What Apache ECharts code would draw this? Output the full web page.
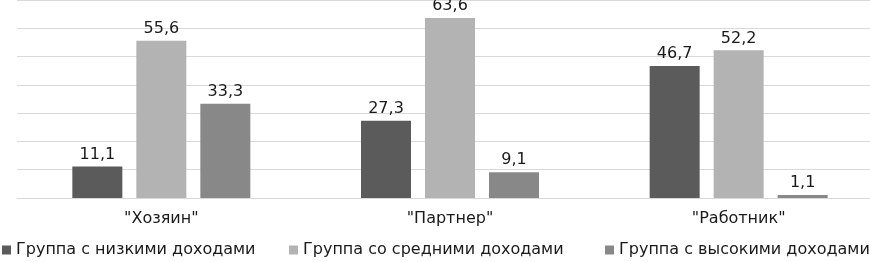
<!DOCTYPE html>
<html>
<head>
<meta charset="utf-8">
<script src="https://cdn.jsdelivr.net/npm/echarts@6/dist/echarts.min.js"></script>
<style>html,body{margin:0;padding:0;background:#fff;overflow:hidden;width:870px;height:262px;}#c{width:883px;height:262px;}</style>
</head>
<body>
<div id="c"></div>
<script>
var categories = ['"Хозяин"', '"Партнер"', '"Работник"'];
var seriesNames = ['Группа с низкими доходами', 'Группа со средними доходами', 'Группа с высокими доходами'];
var lowIncome = [11.1, 27.3, 46.7];
var midIncome = [55.6, 63.6, 52.2];
var highIncome = [33.3, 9.1, 1.1];
var yMin = 0, yMax = 70, yStep = 10;

var colors = ['#5b5b5b', '#b3b3b3', '#888888'];
var font = 'DejaVu Sans, sans-serif';
var chart = echarts.init(document.getElementById('c'), null, {renderer: 'canvas'});
var values = [lowIncome, midIncome, highIncome];
var legendLefts = [2, 289, 605];
var series = values.map(function (v, i) {
  return {
    name: seriesNames[i],
    type: 'bar',
    data: v,
    barWidth: 50,
    barGap: '28%',
    itemStyle: {color: colors[i]},
    label: {
      show: true,
      position: 'top',
      distance: 4,
      color: '#1a1a1a',
      fontSize: 16,
      fontFamily: font,
      formatter: function (p) { return String(p.value).replace('.', ','); }
    }
  };
});
chart.setOption({
  animation: false,
  backgroundColor: '#fff',
  color: colors,
  grid: {left: 17, right: 0, top: -2, height: 200, containLabel: false},
  legend: seriesNames.map(function (n, i) {
    return {
      data: [n],
      left: legendLefts[i],
      top: 242,
      padding: 0,
      itemWidth: 9,
      itemHeight: 9,
      icon: 'rect',
      textStyle: {fontSize: 16, fontFamily: font, color: '#1a1a1a'}
    };
  }),
  xAxis: {
    type: 'category',
    data: categories,
    axisLine: {show: true, lineStyle: {color: '#d9d9d9', width: 1}},
    axisTick: {show: false},
    axisLabel: {fontSize: 16, fontFamily: font, color: '#1a1a1a', margin: 13}
  },
  yAxis: {
    type: 'value',
    min: yMin, max: yMax, interval: yStep,
    axisLabel: {show: false},
    axisLine: {show: false},
    axisTick: {show: false},
    splitLine: {lineStyle: {color: '#d9d9d9', width: 1}}
  },
  series: series
});
</script>
</body>
</html>
